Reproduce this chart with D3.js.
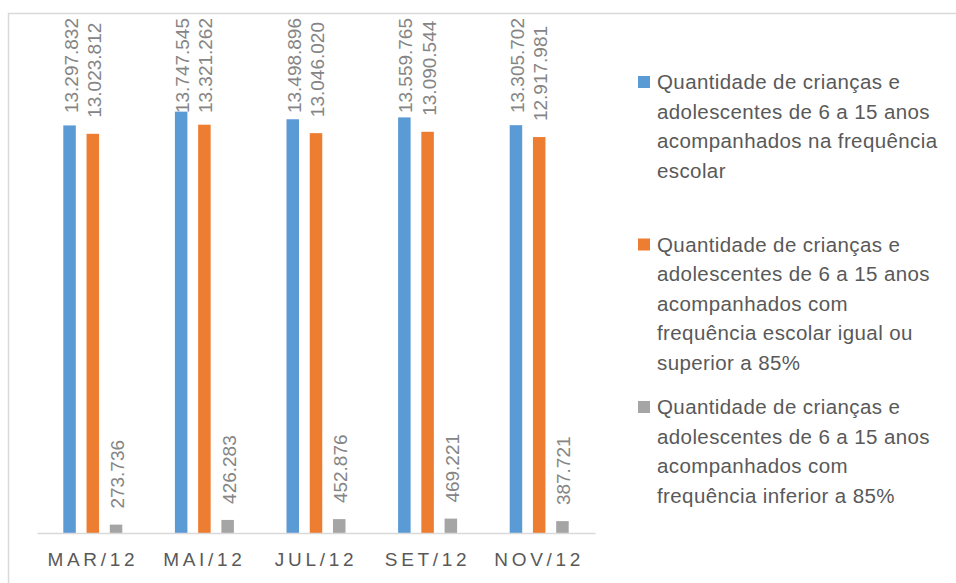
<!DOCTYPE html>
<html>
<head>
<meta charset="utf-8">
<script src="https://cdn.jsdelivr.net/npm/d3@7"></script>
<style>
  body { margin: 0; background: #fff; }
  svg { display: block; }
</style>
</head>
<body>
<div class="chart"></div>
<script>
// data
const months = ["MAR/12", "MAI/12", "JUL/12", "SET/12", "NOV/12"];
const totalAcomp = [13297832, 13747545, 13498896, 13559765, 13305702];
const acima85 = [13023812, 13321262, 13046020, 13090544, 12917981];
const abaixo85 = [273736, 426283, 452876, 469221, 387721];
const seriesNames = [
  ["Quantidade de crianças e", "adolescentes de 6 a 15 anos", "acompanhados na frequência", "escolar"],
  ["Quantidade de crianças e", "adolescentes de 6 a 15 anos", "acompanhados com", "frequência escolar igual ou", "superior a 85%"],
  ["Quantidade de crianças e", "adolescentes de 6 a 15 anos", "acompanhados com", "frequência inferior a 85%"]
];
const colors = ["#5b9bd5", "#ed7d31", "#a5a5a5"];

const W = 956, H = 583;
const series = [totalAcomp, acima85, abaixo85];
const rows = months.map((m, i) => ({ month: m, values: series.map((s, k) => ({ k: k, v: s[i] })) }));

const svg = d3.select(".chart").append("svg")
  .attr("width", W)
  .attr("height", H);

// chart area border
svg.append("rect")
  .attr("x", 8.5).attr("y", 13.5)
  .attr("width", 1000).attr("height", 700)
  .attr("fill", "none")
  .attr("stroke", "#d9d9d9")
  .attr("stroke-width", 1.5);

const plot = { left: 37, right: 595, bottom: 533 };

const x0 = d3.scaleBand().domain(months).range([plot.left, plot.right]);
const groupW = 59;
const x1 = d3.scaleBand().domain([0, 1, 2])
  .range([(x0.bandwidth() - groupW) / 2, (x0.bandwidth() + groupW) / 2])
  .paddingInner(0.462);
const y = d3.scaleLinear().domain([0, 16000000]).range([plot.bottom, 42.6]);

const fmt = d3.formatLocale({ decimal: ",", thousands: ".", grouping: [3], currency: ["R$", ""] }).format(",d");

const groups = svg.append("g").selectAll("g")
  .data(rows)
  .join("g")
  .attr("transform", d => `translate(${x0(d.month)},0)`);

groups.selectAll("rect")
  .data(d => d.values)
  .join("rect")
  .attr("x", d => x1(d.k))
  .attr("y", d => y(d.v))
  .attr("width", x1.bandwidth())
  .attr("height", d => y(0) - y(d.v))
  .attr("fill", d => colors[d.k]);

// data labels, rotated; kept inside the chart area like Excel does
groups.selectAll("text")
  .data(d => d.values)
  .join("text")
  .attr("font-family", "Liberation Sans, Arial, sans-serif")
  .attr("font-size", 19)
  .attr("fill", "#858585")
  .text(d => fmt(d.v))
  .each(function(d) {
    const len = this.getComputedTextLength();
    const bottom = Math.max(y(d.v) - 16, 18 + len);
    const cx = x1(d.k) + x1.bandwidth() / 2 + 8;
    d3.select(this).attr("transform", `translate(${cx},${bottom}) rotate(-90)`);
  });

// x axis
const xAxis = svg.append("g")
  .attr("transform", `translate(0,${plot.bottom})`)
  .call(d3.axisBottom(x0).tickSize(0).tickPadding(20));
xAxis.select(".domain").attr("stroke", "#d9d9d9").attr("stroke-width", 1.5);
xAxis.selectAll("text")
  .attr("font-family", "Liberation Sans, Arial, sans-serif")
  .attr("font-size", 19)
  .attr("letter-spacing", "3.7px")
  .attr("fill", "#595959");

// legend
const legend = svg.append("g")
  .selectAll("g")
  .data(seriesNames)
  .join("g")
  .attr("transform", (d, i) => `translate(638,${82 + i * 162.5})`);

legend.append("rect")
  .attr("x", 0).attr("y", -6)
  .attr("width", 12).attr("height", 12)
  .attr("fill", (d, i) => colors[i]);

legend.append("text")
  .attr("font-family", "Liberation Sans, Arial, sans-serif")
  .attr("font-size", 20.5)
  .attr("letter-spacing", "0.4px")
  .attr("fill", "#595959")
  .selectAll("tspan")
  .data(d => d)
  .join("tspan")
  .attr("x", 19)
  .attr("y", (d, j) => 7 + j * 29.5)
  .text(d => d);
</script>
</body>
</html>
